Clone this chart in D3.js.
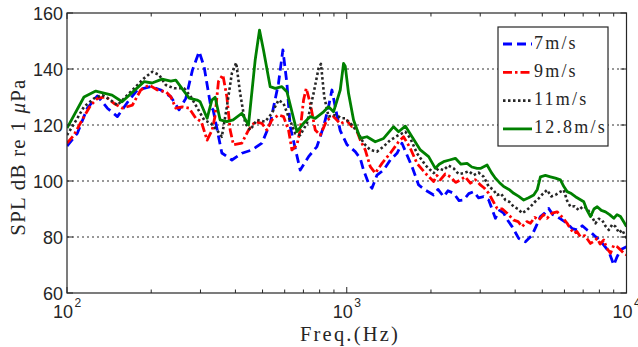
<!DOCTYPE html>
<html>
<head>
<meta charset="utf-8">
<script src="https://cdn.jsdelivr.net/npm/d3@7.9.0/dist/d3.min.js"></script>
<style>
  body { margin: 0; background: #fff; }
  svg { display: block; }
  .tick-label { font-family: "Liberation Sans", Arial, sans-serif; font-size: 18px; fill: #262626; }
  .serif { font-family: "Liberation Serif", "Times New Roman", serif; fill: #262626; }
</style>
</head>
<body>
<svg id="chart" width="638" height="347"></svg>
<script>
// frequency (Hz), SPL (dB re 1 uPa)
const wind7 = [
  [100,112.5],[108.8,117],[118.2,126],[128.4,130.4],[139.4,126],[151.4,123],[166.7,128.9],[178.5,132.5],
  [199.3,133.7],[216.4,132.5],[235,130.1],[251.6,125.4],[265.9,129.5],[280.8,139.6],[296.7,146.2],[309.1,140.8],
  [326.7,126.5],[333,125.4],[357.7,110],[388.5,107.5],[421.7,109.9],[458,111.1],[497.4,113.5],[532.5,120.6],
  [570.2,134.9],[591.2,146.8],[611,134.9],[628,119.4],[681.9,103.9],[730.2,108.7],[782.5,112.3],[826.1,119.4],
  [860.8,126.5],[885.1,132.5],[920,124],[947.8,118],[1001.6,113],[1072.4,110.5],[1117.6,108.1],[1148.4,103.9],
  [1196.7,99.2],[1230.8,97.4],[1282.6,102.1],[1354.2,103.9],[1430.8,107.5],[1512,109.9],[1575.6,113.5],[1642,109.3],
  [1711.2,105.1],[1806.5,98.6],[1909.2,96.8],[2044.4,95],[2120,97],[2219.6,94.4],[2300,96.5],[2410.7,95.6],
  [2520,93],[2617.8,93.2],[2730,95.5],[2842.7,96.2],[2960,94],[3086.9,94.4],[3216.8,93.2],[3398.9,86.7],
  [3520,89.5],[3639.8,88.5],[3760,86],[3900.3,83.7],[4118,79.5],[4352,78.3],[4599,80.7],[4760,84],[4924,87.3],
  [5100,88.5],[5271,90.2],[5450,88],[5649,87.3],[5900,86],[6135,84.9],[6400,83],[6662,82.5],[6950,84],
  [7234,82.5],[7500,81.5],[7749,80.1],[8000,79],[8296,77.1],[8645,74.8],[9008,70],[9260,73],[9517,75.4],[10000,76.5]
];
const wind9 = [
  [100,113.5],[105.9,116.4],[115,123],[121.6,127.1],[128.4,129.5],[137.5,130.1],[147.3,127.7],[157.8,126],
  [171.3,127.1],[183.5,132.5],[196.5,134.3],[210.4,132.5],[225.5,131.9],[235,130.1],[244.9,126],[258.5,126.5],
  [273.3,126],[288.8,122.4],[302,121.2],[316.9,114.6],[330.3,118.2],[338,123],[347.8,135.5],[360.7,137.9],
  [372.8,130.1],[383.1,118.2],[393.6,112.9],[421.7,113.5],[445.4,118.2],[470.6,121.2],[497.4,120.6],[518.2,118.2],
  [540,121.8],[570.2,123.6],[594.2,123],[619.2,118.2],[636.8,111.1],[663.6,112.9],[681.9,118.2],[700.7,128.9],
  [716.5,133.1],[740.5,127.7],[771.6,118.2],[804,116.4],[849.5,121.8],[897,123],[947.8,120.5],[1001.6,121.5],
  [1043.7,119.4],[1072.4,119.4],[1117.6,114.6],[1164.6,111.1],[1213.6,105.1],[1264.7,102.8],[1336.3,106.3],
  [1430.8,109.9],[1532,114],[1596.5,115.8],[1687.3,111.7],[1782.9,106.3],[1909.2,102.8],[2044.4,99.8],[2100,102],
  [2160,100.4],[2250,102.5],[2346,101.5],[2450,99.5],[2547.6,100.4],[2650,101.5],[2766.5,99.2],[2880,100.5],
  [3003.5,98.6],[3100,97.5],[3216.8,95.6],[3447,90.2],[3600,90],[3742.7,88.5],[3952,86],[4100,85.5],[4236,83.7],
  [4400,85.5],[4535,84.9],[4700,87],[4856,86],[5050,88],[5202,86.7],[5420,88.5],[5649,89],[5900,87],[6135,84.9],
  [6300,83],[6478,81.3],[6650,82],[6845,80.1],[7100,80.5],[7434,77.7],[7650,78.5],[7858,79.5],[8050,77.5],
  [8296,78.9],[8500,76],[8767,74.2],[9000,77],[9262,76.5],[9500,75.5],[9779,74.2],[10000,73.6]
];
const wind11 = [
  [100,116.4],[108,121.8],[115,126.5],[124.9,129.5],[133.7,130.7],[143.3,128.9],[151.4,127.1],[162.2,130.1],
  [173.7,133.1],[188.6,136.7],[201.9,139],[213.4,137.9],[225.5,134.3],[241.5,133.1],[262.2,133.1],[277.1,130.1],
  [292.6,126],[309.1,121.8],[326.7,120.6],[343.3,118.2],[357.7,115.8],[372.8,126.5],[388.5,138.5],[402.5,142.2],
  [415.9,131.3],[433.5,120.6],[451.6,118.2],[477.3,121.8],[511,121.2],[540,124.2],[570.2,128.9],[594.2,127.7],
  [619.2,123],[654.4,117],[681.9,116.4],[720.6,120.6],[760.9,131.3],[792.9,140.2],[808.6,141.8],[830.9,130.1],
  [860.8,123],[909.7,123.6],[961.2,122.4],[987.7,122.4],[1043.7,120],[1102,117],[1148.4,113.5],[1213.6,111.1],
  [1282.6,110.5],[1354.2,112.3],[1430.8,114.6],[1532,116.4],[1619.1,117.6],[1687.3,115.2],[1782.9,109.9],
  [1909.2,105.7],[2044.4,102.8],[2130,104.5],[2219.6,103.9],[2310,105.5],[2410.7,104.5],[2510,102.5],[2617.8,102.8],
  [2730,103.5],[2842.7,102.1],[2960,103],[3086.9,101.5],[3216.8,98],[3330,97],[3447,95],[3560,95.5],[3690.5,93.2],
  [3820,92.5],[3952,90.8],[4100,90],[4236,88.5],[4390,89.5],[4535,90.8],[4700,92.5],[4856,93.8],[5030,95.5],
  [5202,96.8],[5380,94.5],[5570,95],[5760,96],[5965,96.8],[6130,93],[6304,90.8],[6520,91],[6750,89.6],[7000,91],
  [7234,90.2],[7500,87.5],[7749,84.9],[7960,86.5],[8187,86],[8400,84],[8645,82.5],[8900,84.5],[9136,83.7],
  [9400,81.5],[9652,82.5],[10000,79.5]
];
const wind128 = [
  [100,118.9],[115,130],[126.7,132.1],[144.9,130.7],[157.4,128.3],[188.6,135.5],[201.4,135],[218.8,136.4],
  [235,135.7],[244.9,136],[273.3,129.6],[291.9,128.9],[299.1,128.3],[316.9,122.4],[329.4,128.9],[338.5,129.9],
  [352.7,121.8],[372.8,121.2],[392.6,121.8],[421.7,124.2],[445.4,120],[470.6,143.2],[487.6,153.9],[503.9,146.8],
  [532.5,133.7],[554.9,133.1],[586.4,133.7],[611,131.9],[663.6,117.6],[700.7,120.6],[740.5,123],[771.6,122.4],
  [826.1,124.7],[860.8,126.5],[897,124.7],[947.8,132.5],[974.1,142],[987.7,141],[1014.9,131.3],[1057.6,121.8],
  [1117.6,115.2],[1181.1,115.8],[1264.7,114],[1354.2,115.2],[1470.2,119.4],[1532,117.6],[1619.1,119.6],
  [1711.2,115.8],[1832.1,111.1],[1961.8,108.7],[2073,104.5],[2140,106],[2219.6,106.9],[2330,107.5],[2444.8,108.1],
  [2560,106],[2692.4,106.3],[2800,105],[2923.1,104.5],[3003.5,104.5],[3174.1,105.7],[3290,103],[3398.9,101],
  [3510,99.5],[3639.8,98],[3800,97],[3952,95.6],[4120,94.5],[4292,93.2],[4470,94],[4660,95],[4800,97],[4924,101.5],
  [5130,102],[5346,101.5],[5570,101],[5805,100.4],[5970,98],[6135,96.2],[6350,95.5],[6569,94.4],[6800,93.5],
  [7034,92.6],[7230,89.5],[7434,87.3],[7650,90],[7858,90.8],[8130,89.5],[8413,89],[8700,88],[9008,86.7],
  [9250,88],[9517,87.3],[9760,85.5],[10000,83.7]
];

const seriesNames = ["7m/s", "9m/s", "11m/s", "12.8m/s"];
const seriesData = [wind7, wind9, wind11, wind128];
const seriesColors = ["#0000ff", "#ff0000", "#262626", "#008000"];
const seriesDash = ["9,5", "9,3,2.5,3", "2.5,2.5", null];

const yTicks = [60, 80, 100, 120, 140, 160];
const yGrid = [80, 100, 120, 140];
const xMajor = [100, 1000, 10000];
const xMajorExp = ["2", "3", "4"];

const svg = d3.select("#chart");
const plotL = 67, plotR = 626.5, plotT = 13, plotB = 293;

const x = d3.scaleLog().domain([100, 10000]).range([plotL, plotR]);
const y = d3.scaleLinear().domain([60, 160]).range([plotB, plotT]);

// grid
svg.append("g").selectAll("line")
  .data(yGrid)
  .join("line")
  .attr("x1", plotL).attr("x2", plotR)
  .attr("y1", d => y(d)).attr("y2", d => y(d))
  .attr("stroke", "#333")
  .attr("stroke-width", 1)
  .attr("stroke-dasharray", "2,3");

// data lines
svg.append("clipPath").attr("id", "clip")
  .append("rect").attr("x", plotL).attr("y", plotT)
  .attr("width", plotR - plotL).attr("height", plotB - plotT);

const line = d3.line().x(d => x(d[0])).y(d => y(d[1]));

const plot = svg.append("g").attr("clip-path", "url(#clip)");
seriesData.forEach((data, i) => {
  plot.append("path")
    .attr("d", line(data))
    .attr("fill", "none")
    .attr("stroke", seriesColors[i])
    .attr("stroke-width", i === 2 ? 2.6 : 2.8)
    .attr("stroke-linejoin", "round")
    .attr("stroke-dasharray", seriesDash[i]);
});

// frame
svg.append("rect")
  .attr("x", plotL).attr("y", plotT)
  .attr("width", plotR - plotL).attr("height", plotB - plotT)
  .attr("fill", "none")
  .attr("stroke", "#262626")
  .attr("stroke-width", 1.2);

// ticks
const xAll = x.ticks();
const ticks = svg.append("g").attr("stroke", "#262626").attr("stroke-width", 1);
xAll.forEach(t => {
  const len = xMajor.includes(t) ? 6 : 3.5;
  ticks.append("line").attr("x1", x(t)).attr("x2", x(t)).attr("y1", plotB).attr("y2", plotB - len);
  ticks.append("line").attr("x1", x(t)).attr("x2", x(t)).attr("y1", plotT).attr("y2", plotT + len);
});
yTicks.forEach(t => {
  ticks.append("line").attr("x1", plotL).attr("x2", plotL + 6).attr("y1", y(t)).attr("y2", y(t));
  ticks.append("line").attr("x1", plotR).attr("x2", plotR - 6).attr("y1", y(t)).attr("y2", y(t));
});

// tick labels
svg.append("g").selectAll("text")
  .data(yTicks)
  .join("text")
  .attr("class", "tick-label")
  .attr("x", plotL - 4)
  .attr("y", d => y(d) + 6.5)
  .attr("text-anchor", "end")
  .text(d => d);

xMajor.forEach((t, i) => {
  const g = svg.append("g").attr("transform", `translate(${x(t)},318)`);
  g.append("text").attr("class", "tick-label").attr("x", 6).attr("text-anchor", "end").text("10");
  g.append("text").attr("class", "tick-label").attr("x", 7.5).attr("y", -11)
    .style("font-size", "12px").text(xMajorExp[i]);
});

// axis titles
svg.append("text")
  .attr("class", "serif")
  .attr("x", 350).attr("y", 341)
  .attr("text-anchor", "middle")
  .style("font-size", "20.5px")
  .style("letter-spacing", "2.2px")
  .text("Freq.(Hz)");

const yl = svg.append("text")
  .attr("class", "serif")
  .attr("transform", "translate(25,157) rotate(-90)")
  .attr("text-anchor", "middle")
  .style("font-size", "21px")
  .style("letter-spacing", "1.2px");
yl.append("tspan").text("SPL dB re 1 ");
yl.append("tspan").style("font-style", "italic").text("μ");
yl.append("tspan").text("Pa");

// legend
const legend = svg.append("g");
legend.append("rect")
  .attr("x", 498).attr("y", 27).attr("width", 110).attr("height", 119)
  .attr("fill", "#fff").attr("stroke", "#262626").attr("stroke-width", 1.2);
seriesNames.forEach((name, i) => {
  const ly = 44 + i * 28.3;
  legend.append("line")
    .attr("x1", 503).attr("x2", 532).attr("y1", ly).attr("y2", ly)
    .attr("stroke", seriesColors[i])
    .attr("stroke-width", i === 2 ? 2.6 : 2.8)
    .attr("stroke-dasharray", seriesDash[i]);
  legend.append("text")
    .attr("class", "serif")
    .attr("x", 534).attr("y", ly + 4.5)
    .style("font-size", "18px")
    .style("letter-spacing", "2.2px")
    .text(name);
});
</script>
</body>
</html>
